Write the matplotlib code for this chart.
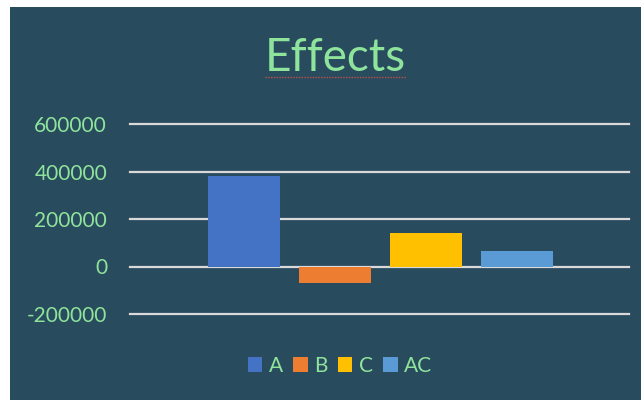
import matplotlib
matplotlib.use("Agg")
import matplotlib.pyplot as plt
from matplotlib.lines import Line2D
from matplotlib.patches import Patch, Rectangle

series = ["A", "B", "C", "AC"]
effects = [380000, -70000, 140000, 67000]
colors = ["#4472C4", "#ED7D31", "#FFC000", "#5B9BD5"]
yticks = [-200000, 0, 200000, 400000, 600000]

bg = "#294B5E"
green = "#8FE49C"

plt.rcParams["font.family"] = ["Lato", "DejaVu Sans"]

fig = plt.figure(figsize=(6.41, 4.0), dpi=100, facecolor="white")
# dark chart area, white margin on left and top
fig.add_artist(Rectangle((10 / 641, 0), 1, 393 / 400, transform=fig.transFigure,
                         facecolor=bg, edgecolor="none", zorder=-5))

ax = fig.add_axes([130 / 641, 86 / 400, 499 / 641, 190 / 400])
ax.set_zorder(2)
ax.set_facecolor("none")

pos = list(range(len(series)))
ax.bar(pos, effects, width=0.79, color=colors, zorder=3)

ax.set_xlim(-1.253, 4.231)
ax.set_ylim(-200000, 600000)
ax.set_yticks(yticks)
ax.set_yticklabels([str(v) for v in yticks])
ax.set_xticks([])
ax.tick_params(axis="y", length=0, pad=16.5, labelsize=15, labelcolor=green)
ax.yaxis.grid(True, color="#D9D9D9", linewidth=1.6, zorder=1)
for s in ax.spines.values():
    s.set_visible(False)
for ln in ax.get_ygridlines():
    ln.set_clip_on(False)

fig.text(335 / 641, 1 - 58 / 400, "Effects", ha="center", va="center",
         fontsize=33, color=green)
# spell-check style dotted underline below title
fig.add_artist(Line2D([265 / 641, 406 / 641], [1 - 77 / 400, 1 - 77 / 400],
                      transform=fig.transFigure, color="#C0504D", linewidth=1,
                      linestyle=(0, (1, 1))))

handles = [Patch(facecolor=c, edgecolor="none") for c in colors]
fig.legend(handles, series, loc="center", bbox_to_anchor=(340 / 641, 1 - 366 / 400),
           ncol=4, frameon=False, fontsize=15, labelcolor=green,
           handlelength=0.7, handleheight=0.7, handletextpad=0.3, columnspacing=0.5)

fig.savefig("out.png", dpi=100, facecolor="white")
